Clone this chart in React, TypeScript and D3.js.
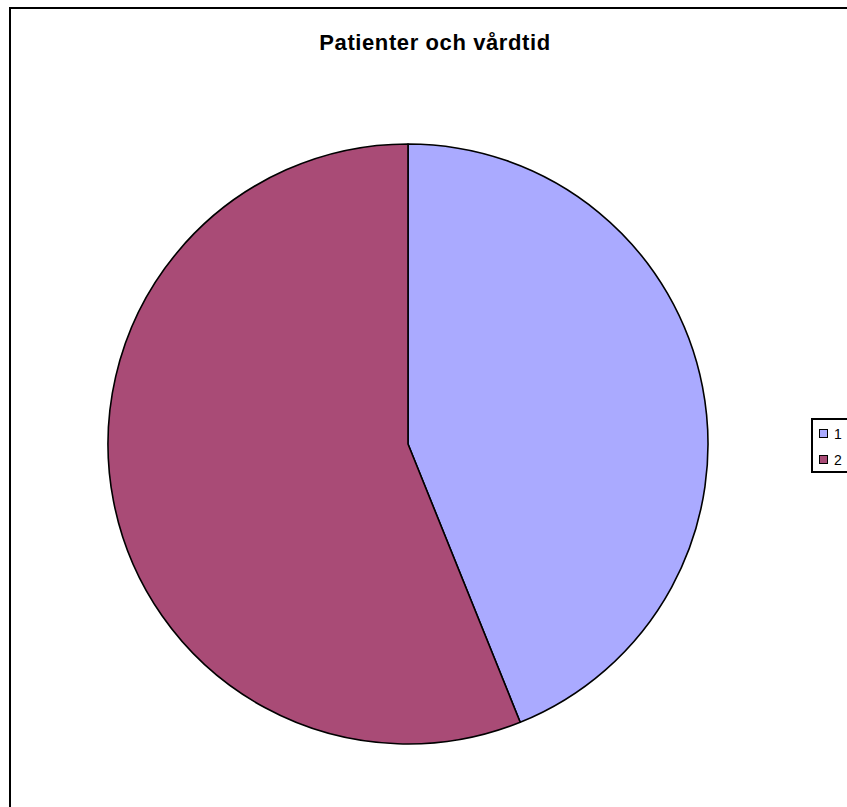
import React from "react";
import * as d3 from "d3";

const categories = ["1", "2"];
const values = [43.9, 56.1];
const colors = ["#AAAAFF", "#A94B76"];
const title = "Patienter och vårdtid";

export default function App() {
  const W = 847, H = 807;
  const cx = 408, cy = 444, r = 300;
  const pie = d3.pie<number>().sort(null).startAngle(0).endAngle(2 * Math.PI);
  const arcs = pie(values);
  const arc = d3.arc<d3.PieArcDatum<number>>().innerRadius(0).outerRadius(r);
  return (
    <svg width={W} height={H} style={{ position: "absolute", left: 0, top: 0, background: "#fff" }}>
      <rect x={10} y={8} width={W + 20} height={H + 20} fill="#fff" stroke="#000" strokeWidth={2} />
      <text x={435} y={49.5} textAnchor="middle" fontFamily="Liberation Sans, Arial, sans-serif" fontWeight="bold" fontSize={22} letterSpacing={0.6}>
        {title}
      </text>
      <g transform={`translate(${cx},${cy})`}>
        {arcs.map((a, i) => (
          <path key={i} d={arc(a) as string} fill={colors[i]} stroke="#000" strokeWidth={1.6} strokeLinejoin="round" />
        ))}
      </g>
      <rect x={812} y={419} width={60} height={53} fill="#fff" stroke="#000" strokeWidth={2} />
      {categories.map((c, i) => (
        <g key={c} transform={`translate(0,${i * 26})`}>
          <rect x={819.5} y={429.5} width={8} height={8} fill={colors[i]} stroke="#000" strokeWidth={1} />
          <text x={834} y={438.5} fontFamily="Liberation Sans, Arial, sans-serif" fontSize={14}>{c}</text>
        </g>
      ))}
    </svg>
  );
}
